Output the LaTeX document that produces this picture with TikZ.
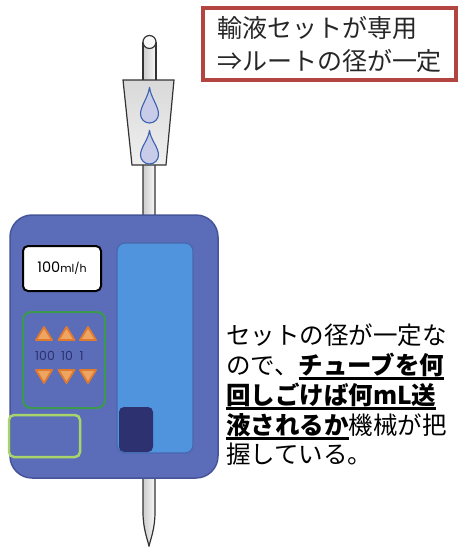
\documentclass[tikz,border=0pt]{standalone}
\usepackage{fontspec}
\newfontfamily\cjk{Noto Sans CJK JP}
\newfontfamily\pumpfont{Poppins}

\definecolor{pumpblue}{HTML}{5B6DB8}
\definecolor{pumpedge}{HTML}{46549A}
\definecolor{panelblue}{HTML}{4F94DC}
\definecolor{keynavy}{HTML}{2E3170}
\definecolor{btnorange}{HTML}{E27A2E}
\definecolor{btnlight}{HTML}{EFA562}
\definecolor{keygreen}{HTML}{3C9A50}
\definecolor{lightgreen}{HTML}{A8D46A}
\definecolor{framered}{HTML}{B2453F}
\definecolor{dropblue}{HTML}{3A62B0}
\definecolor{dropfill}{HTML}{C8CCE8}

% 粗下划线
\newcommand\ulbold[1]{\vtop{\hbox{\bfseries #1}\kern1pt\hrule height 2.4pt}}

\begin{document}
\begin{tikzpicture}[x=1pt,y=-1pt,
    tube/.style={draw=black!80,line width=1.2pt,left color=gray!40,right color=gray!6},
    drop/.style={draw=dropblue,line width=1.1pt,fill=dropfill},
    keytri/.style={draw=btnorange,line width=1.8pt,fill=btnlight,line join=round},
    linetext/.style={anchor=base west,inner sep=0pt,font=\cjk\fontsize{24.5}{30}\selectfont}]
    \useasboundingbox (0,0) rectangle (459,547);

    % 输液管
    \draw[tube] (143,160) -- (143,512) .. controls (143,528) and (147,538) .. (149,546)
        .. controls (151,538) and (155,528) .. (155,512) -- (155,160);
    \draw[tube] (143,42) -- (143,82) -- (156,82) -- (156,42);
    \draw[line width=1.2pt,draw=black!80,fill=gray!5] (149.5,42) circle (6.5);

    % 滴下筒
    \draw[line width=1.2pt,draw=black!80,top color=gray!30,bottom color=gray!12]
        (123,80) -- (174,80) -- (166,165) -- (132,165) -- cycle;
    \foreach \t/\b in {87/123,130/164} {
            \draw[drop] (149.5,\t) .. controls (150.5,\t+10) and (158.5,\b-17) .. (158.5,\b-9)
                arc (0:180:9) .. controls (140.5,\b-17) and (148.5,\t+10) .. (149.5,\t);
        }

    % 输液泵
    \draw[draw=pumpedge,line width=1.5pt,fill=pumpblue,rounded corners=22] (10,215) rectangle (218,478);
    \draw[draw=pumpedge!70!panelblue,line width=1.2pt,fill=panelblue,rounded corners=8] (117,243) rectangle (193,453);
    \fill[keynavy,rounded corners=5] (119,407) rectangle (153,452);

    % 显示窗
    \node[draw=black,line width=2pt,fill=white,rounded corners=5,minimum width=78,minimum height=45,
        font=\pumpfont] (disp) at (62,268.5) {\fontsize{14.5}{16}\selectfont 100\fontsize{11}{12}\selectfont ml/h};

    % 按键
    \draw[keygreen,line width=2pt,rounded corners=8] (23,312) rectangle (105,408);
    \foreach \cx/\lx/\k in {44/45/100,66.5/67/10,88/81.5/1} {
            \draw[keytri] (\cx-8,340) -- (\cx+8,340) -- (\cx,327) -- cycle;
            \draw[keytri] (\cx-8,370) -- (\cx+8,370) -- (\cx,383) -- cycle;
            \node[text=keynavy,font=\pumpfont\fontsize{12.5}{14}\selectfont,inner sep=0pt] (key\k) at (\lx,356) {\k};
        }
    \draw[lightgreen,line width=2.5pt,rounded corners=5] (9,415) rectangle (80,457);

    % 红框说明
    \node[draw=framered,line width=4pt,minimum width=253,minimum height=72,align=left,
        text=black!85,font=\cjk\fontsize{25}{33}\selectfont] (note) at (329.5,44)
        {輸液セットが専用\\⇒ルートの径が一定};

    % 右侧说明
    \node[linetext] (l1) at (226,344) {セットの径が一定な};
    \node[linetext] (l2) at (226,374) {ので、\ulbold{チューブを何}};
    \node[linetext] (l3) at (226,404) {\ulbold{回しごけば何mL送}};
    \node[linetext] (l4) at (226,434) {\ulbold{液されるか}機械が把};
    \node[linetext] (l5) at (226,463) {握している。};
\end{tikzpicture}
\end{document}
